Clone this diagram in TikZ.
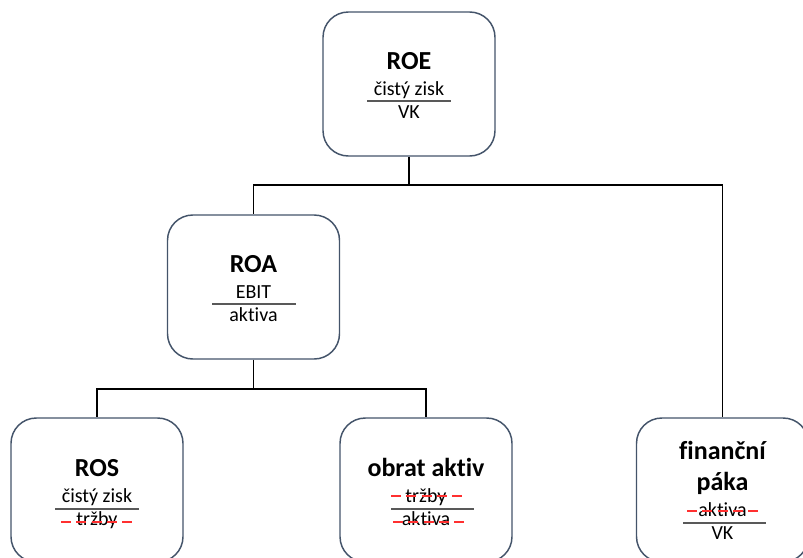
\documentclass[tikz,border=0pt]{standalone}
\usepackage{fontspec}
\setmainfont[Ligatures=NoCommon]{Carlito}
\definecolor{boxline}{HTML}{44546A}
\definecolor{fracline}{HTML}{595959}
\definecolor{strikered}{HTML}{FF3030}
\tikzset{
  kbox/.style={draw=boxline, line width=1.1pt, rounded corners=19pt, minimum width=129pt, minimum height=108pt, inner sep=0pt, fill=white},
  ktitle/.style={font=\fontsize{19.5}{22}\selectfont\bfseries, anchor=base, inner sep=0pt},
  ksub/.style={font=\fontsize{15}{17}\selectfont, anchor=base, inner sep=0pt},
  kfrac/.style={draw=fracline, line width=0.8pt},
  kstrike/.style={draw=strikered, line width=1.1pt, dash pattern=on 7.5pt off 4pt},
  kconn/.style={draw=black, line width=0.9pt}
}
\begin{document}
\begin{tikzpicture}[x=0.75pt,y=-0.75pt]
\useasboundingbox (0,0) rectangle (803,557);
\clip (0,0) rectangle (803,557);
% boxes
\node[kbox] (roe) at (409,84) {};
\node[kbox] (roa) at (253.5,287) {};
\node[kbox] (ros) at (97,490) {};
\node[kbox] (obrat) at (426,490) {};
\node[kbox] (paka) at (722.5,490) {};
% connectors
\coordinate (j1) at (409,185);
\coordinate (j2) at (253.5,389);
\draw[kconn] (roe.south) -- (j1) -| (roa.north);
\draw[kconn] (j1) -| (paka.north);
\draw[kconn] (roa.south) -- (j2) -| (ros.north);
\draw[kconn] (j2) -| (obrat.north);
% ROE
\node[ktitle] (roeT) at (409,69) {ROE};
\node[ksub] (roeN) at (409,95) {čistý zisk};
\node[ksub] (roeD) at (409,118) {VK};
\draw[kfrac] (367,101) -- (451,101);
% ROA
\node[ktitle] (roaT) at (253.5,272) {ROA};
\node[ksub] (roaN) at (253.5,298) {EBIT};
\node[ksub] (roaD) at (253.5,321) {aktiva};
\draw[kfrac] (212,304) -- (296,304);
% ROS
\node[ktitle] (rosT) at (97,476) {ROS};
\node[ksub] (rosN) at (97,502) {čistý zisk};
\node[ksub] (rosD) at (97,525) {tržby};
\draw[kfrac] (55,509) -- (139,509);
\draw[kstrike] (61,522) -- (132,522);
% obrat aktiv
\node[ktitle] (obratT) at (426,476) {obrat aktiv};
\node[ksub] (obratN) at (426,502) {tržby};
\node[ksub] (obratD) at (426,525) {aktiva};
\draw[kfrac] (391,509) -- (474,509);
\draw[kstrike] (391,496) -- (463,496);
\draw[kstrike] (393,522) -- (465,522);
% financni paka
\node[ktitle] (pakaT1) at (722.5,459) {finanční};
\node[ktitle] (pakaT2) at (722.5,490) {páka};
\node[ksub] (pakaN) at (722.5,516) {aktiva};
\node[ksub] (pakaD) at (722.5,539) {VK};
\draw[kfrac] (683,523) -- (766,523);
\draw[kstrike] (687,511) -- (759,511);
\end{tikzpicture}
\end{document}
